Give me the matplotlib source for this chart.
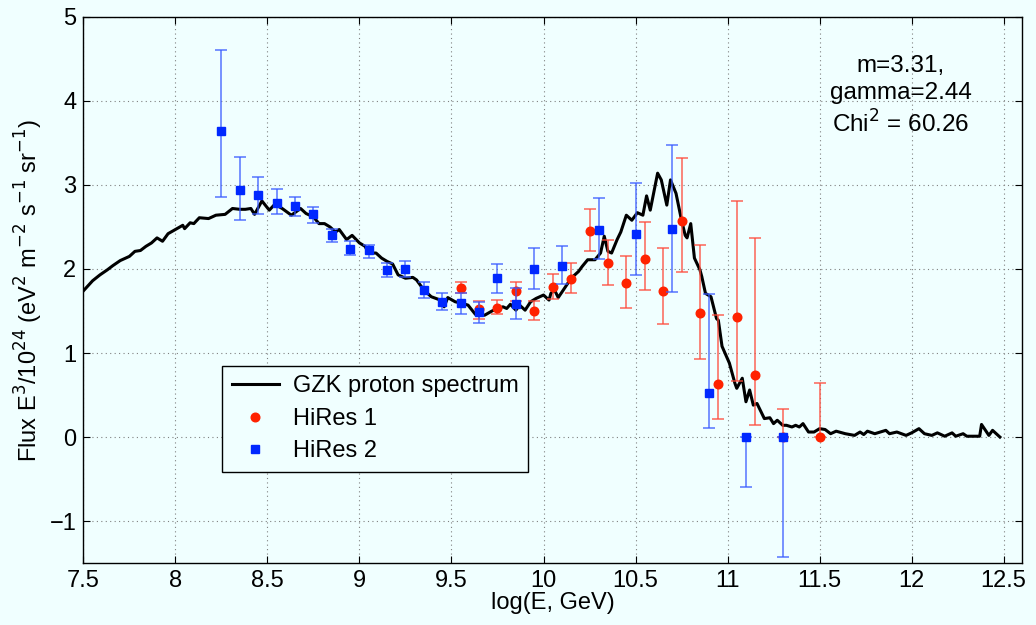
import matplotlib
matplotlib.use('Agg')
import matplotlib.pyplot as plt

plt.rcParams['font.family'] = ['Liberation Sans', 'DejaVu Sans']

# GZK proton spectrum
gzk_x = [7.50, 7.55, 7.59, 7.63, 7.66, 7.70, 7.75, 7.78, 7.81, 7.84, 7.87, 7.90, 7.93, 7.96,
         8.00, 8.04, 8.05, 8.08, 8.10, 8.13, 8.18, 8.22, 8.27, 8.31, 8.35, 8.38, 8.41, 8.43,
         8.47, 8.51, 8.54, 8.58, 8.63, 8.68, 8.71, 8.75, 8.78, 8.81, 8.84, 8.87, 8.89, 8.93,
         8.96, 9.00, 9.03, 9.05, 9.09, 9.12, 9.15, 9.18, 9.21, 9.25, 9.29, 9.31, 9.35, 9.39,
         9.44, 9.46, 9.48, 9.52, 9.56, 9.59, 9.63, 9.68, 9.72, 9.75, 9.78, 9.80, 9.82, 9.85,
         9.87, 9.90, 9.93, 9.96, 10.00, 10.03, 10.04, 10.06, 10.08, 10.12, 10.15, 10.19, 10.21,
         10.24, 10.28, 10.31, 10.33, 10.35, 10.37, 10.40, 10.42, 10.45, 10.48, 10.51, 10.54,
         10.56, 10.58, 10.62, 10.64, 10.67, 10.69, 10.72, 10.75, 10.77, 10.78, 10.80, 10.82,
         10.85, 10.86, 10.88, 10.91, 10.94, 10.95, 10.97, 11.01, 11.04, 11.05, 11.08, 11.10,
         11.12, 11.14, 11.16, 11.20, 11.23, 11.25, 11.27, 11.30, 11.32, 11.35, 11.37, 11.39,
         11.41, 11.44, 11.47, 11.50, 11.53, 11.56, 11.59, 11.64, 11.69, 11.72, 11.74, 11.76,
         11.80, 11.86, 11.88, 11.92, 11.97, 12.00, 12.04, 12.07, 12.11, 12.14, 12.18, 12.22,
         12.24, 12.28, 12.30, 12.37, 12.38, 12.42, 12.44, 12.48]
gzk_y = [1.74, 1.86, 1.93, 1.99, 2.04, 2.10, 2.15, 2.21, 2.22, 2.27, 2.31, 2.37, 2.33, 2.42,
         2.47, 2.52, 2.48, 2.55, 2.54, 2.61, 2.60, 2.64, 2.65, 2.72, 2.71, 2.71, 2.72, 2.65,
         2.81, 2.70, 2.77, 2.72, 2.64, 2.72, 2.66, 2.62, 2.54, 2.54, 2.50, 2.44, 2.47, 2.35,
         2.40, 2.31, 2.27, 2.19, 2.19, 2.13, 2.09, 2.06, 1.93, 1.89, 1.90, 1.87, 1.75, 1.67,
         1.63, 1.55, 1.66, 1.61, 1.59, 1.57, 1.46, 1.45, 1.50, 1.53, 1.55, 1.53, 1.58, 1.51,
         1.57, 1.51, 1.61, 1.65, 1.69, 1.63, 1.71, 1.75, 1.66, 1.79, 1.89, 1.97, 2.03,
         2.11, 2.11, 2.19, 2.39, 2.21, 2.19, 2.35, 2.44, 2.64, 2.58, 2.67, 2.64,
         2.87, 2.70, 3.14, 3.06, 2.76, 3.06, 2.90, 2.58, 2.40, 2.37, 2.54, 2.13,
         1.99, 1.91, 1.71, 1.67, 1.41, 1.39, 1.08, 0.88, 0.64, 0.58, 0.70, 0.42,
         0.56, 0.38, 0.40, 0.22, 0.23, 0.16, 0.20, 0.14, 0.14, 0.12, 0.14, 0.12,
         0.16, 0.06, 0.06, 0.10, 0.09, 0.04, 0.07, 0.04, 0.02, 0.06, 0.03, 0.07,
         0.04, 0.08, 0.04, 0.06, 0.02, 0.05, 0.10, 0.04, 0.02, 0.05, 0.01, 0.05,
         0.01, 0.04, 0.01, 0.01, 0.15, 0.02, 0.08, 0.00]

# HiRes 1
hr1_x = [9.55, 9.65, 9.75, 9.85, 9.95, 10.05, 10.15, 10.25, 10.35, 10.45, 10.55, 10.65,
         10.75, 10.85, 10.95, 11.05, 11.15, 11.30, 11.50]
hr1_y = [1.77, 1.52, 1.54, 1.74, 1.50, 1.79, 1.88, 2.45, 2.07, 1.83, 2.12, 1.74,
         2.57, 1.48, 0.63, 1.43, 0.74, 0.00, 0.00]
hr1_hi = [1.85, 1.62, 1.63, 1.85, 1.62, 1.94, 2.07, 2.71, 2.35, 2.16, 2.56, 2.25,
          3.32, 2.28, 1.45, 2.81, 2.37, 0.33, 0.64]
hr1_lo = [1.71, 1.40, 1.46, 1.62, 1.39, 1.64, 1.72, 2.22, 1.81, 1.54, 1.75, 1.34,
          1.97, 0.93, 0.22, 0.67, 0.14, 0.00, 0.00]

# HiRes 2
hr2_x = [8.25, 8.35, 8.45, 8.55, 8.65, 8.75, 8.85, 8.95, 9.05, 9.15, 9.25, 9.35, 9.45,
         9.55, 9.65, 9.75, 9.85, 9.95, 10.1, 10.3, 10.5, 10.7, 10.9, 11.1, 11.3]
hr2_y = [3.64, 2.94, 2.88, 2.79, 2.75, 2.65, 2.40, 2.24, 2.23, 1.99, 2.00, 1.75, 1.61,
         1.59, 1.49, 1.89, 1.58, 2.00, 2.03, 2.46, 2.42, 2.48, 0.52, 0.00, 0.00]
hr2_hi = [4.60, 3.33, 3.10, 2.95, 2.86, 2.74, 2.48, 2.33, 2.29, 2.07, 2.10, 1.85, 1.72,
          1.71, 1.61, 2.06, 1.77, 2.25, 2.27, 2.85, 3.02, 3.47, 1.70, 0.00, 0.00]
hr2_lo = [2.86, 2.58, 2.66, 2.65, 2.63, 2.55, 2.32, 2.17, 2.13, 1.90, 1.91, 1.65, 1.51,
          1.47, 1.36, 1.72, 1.40, 1.76, 1.82, 2.12, 1.93, 1.73, 0.11, -0.59, -1.43]

bg = '#f0ffff'
fig = plt.figure(figsize=(10.36, 6.25), dpi=100, facecolor=bg)
ax = fig.add_axes([0.0805, 0.099, 0.906, 0.874], facecolor=bg)

line, = ax.plot(gzk_x, gzk_y, color='black', lw=2.2, zorder=3)

err1 = [[y - l for y, l in zip(hr1_y, hr1_lo)], [h - y for y, h in zip(hr1_y, hr1_hi)]]
ax.errorbar(hr1_x, hr1_y, yerr=err1, fmt='none', ecolor='#ff4a3a', elinewidth=1.1,
            capsize=4, capthick=1.1, alpha=0.85, zorder=4)
p1, = ax.plot(hr1_x, hr1_y, 'o', color='#ff2200', ms=6.2, mec='#ff2200', zorder=5)

err2 = [[y - l for y, l in zip(hr2_y, hr2_lo)], [h - y for y, h in zip(hr2_y, hr2_hi)]]
ax.errorbar(hr2_x, hr2_y, yerr=err2, fmt='none', ecolor='#3a5cff', elinewidth=1.1,
            capsize=4, capthick=1.1, alpha=0.85, zorder=6)
p2, = ax.plot(hr2_x, hr2_y, 's', color='#0028ff', ms=5.2, mec='#0028ff', zorder=7)

ax.set_xlim(7.5, 12.6)
ax.set_ylim(-1.5, 5)
ax.set_xticks([7.5, 8, 8.5, 9, 9.5, 10, 10.5, 11, 11.5, 12, 12.5])
ax.set_xticklabels(['7.5', '8', '8.5', '9', '9.5', '10', '10.5', '11', '11.5', '12', '12.5'])
ax.set_yticks([-1, 0, 1, 2, 3, 4, 5])
ax.set_yticklabels(['\u22121', '0', '1', '2', '3', '4', '5'])
ax.tick_params(direction='in', length=5, width=0.8, top=True, right=True,
               labelsize=17, pad=5)
ax.grid(True, linestyle=(0, (1, 3)), color='#808080', linewidth=0.8)
for s in ax.spines.values():
    s.set_linewidth(1.0)

ax.set_xlabel('log(E, GeV)', fontsize=17, labelpad=0)
ax.set_ylabel(r'Flux E$^3$/10$^{24}$ (eV$^2$ m$^{-2}$ s$^{-1}$ sr$^{-1}$)', fontsize=17, labelpad=3)

ax.text(0.871, 0.855, 'm=3.31,\ngamma=2.44\nChi$^2$ = 60.26', transform=ax.transAxes,
        ha='center', va='center', fontsize=17.5, linespacing=1.3)

leg = ax.legend([line, p1, p2], ['GZK proton spectrum', 'HiRes 1', 'HiRes 2'],
                loc='lower left', bbox_to_anchor=(0.148, 0.167), borderaxespad=0,
                fontsize=17, fancybox=False, edgecolor='black', facecolor=bg, framealpha=1,
                handlelength=2.0, borderpad=0.4, labelspacing=0.45, handletextpad=0.6)
leg.get_frame().set_linewidth(1.0)

fig.savefig('out.png', dpi=100, facecolor=bg)
